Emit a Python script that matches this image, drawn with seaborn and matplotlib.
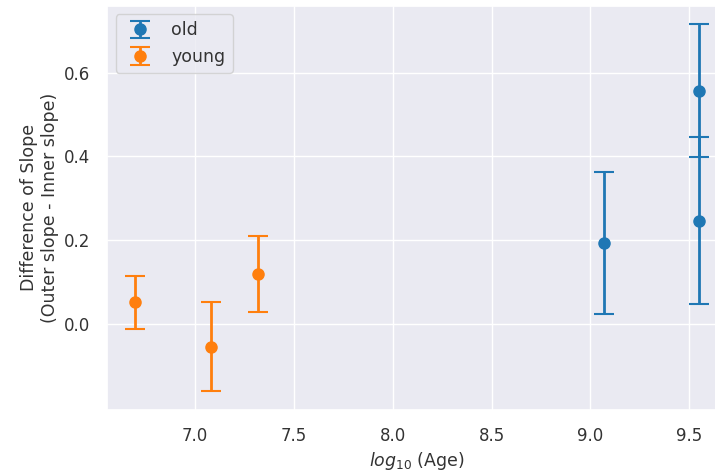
import numpy as np
import matplotlib
matplotlib.use('Agg')
import matplotlib.pyplot as plt
import seaborn as sns

old_x   = [9.07, 9.549, 9.549]
old_y   = [0.193, 0.557, 0.247]
old_err = [0.170, 0.159, 0.200]

young_x   = [6.698, 7.082, 7.317]
young_y   = [0.052, -0.054, 0.119]
young_err = [0.063, 0.107, 0.090]

sns.set_theme(style="darkgrid")
plt.rcParams['font.family'] = ['DejaVu Sans']
plt.rcParams['text.color'] = '#333333'
plt.rcParams['axes.labelcolor'] = '#333333'
plt.rcParams['xtick.color'] = '#333333'
plt.rcParams['ytick.color'] = '#333333'

fig = plt.figure(figsize=(7.15, 4.76), dpi=100)
ax = fig.add_axes([0.150, 0.139, 0.867, 0.849])

pal = sns.color_palette("tab10")
ax.errorbar(old_x, old_y, yerr=old_err, fmt='o', color=pal[0], ms=8,
            capsize=7, elinewidth=2, capthick=1.5, label='old')
ax.errorbar(young_x, young_y, yerr=young_err, fmt='o', color=pal[1], ms=8,
            capsize=7, elinewidth=2, capthick=1.5, label='young')

ax.set_yticks([0.0, 0.2, 0.4, 0.6])
ax.tick_params(labelsize=12, pad=6)
ax.set_xlabel(r"$log_{10}$ (Age)", fontsize=12.5)
ax.set_ylabel("Difference of Slope\n(Outer slope - Inner slope)", fontsize=12.5)
ax.legend(loc='upper left', fontsize=12.5)

fig.savefig('out.png', dpi=100)
